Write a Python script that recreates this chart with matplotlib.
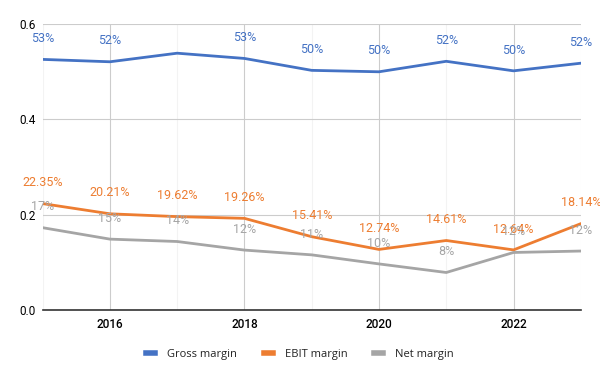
import numpy as np
import matplotlib.pyplot as plt
from matplotlib.ticker import MultipleLocator

years = [2015, 2016, 2017, 2018, 2019, 2020, 2021, 2022, 2023]
gross = [0.526, 0.521, 0.539, 0.528, 0.503, 0.500, 0.522, 0.502, 0.518]
ebit = [0.2235, 0.2021, 0.1962, 0.1926, 0.1541, 0.1274, 0.1461, 0.1264, 0.1814]
net = [0.173, 0.149, 0.144, 0.126, 0.116, 0.097, 0.079, 0.121, 0.124]

gross_labels = ["53%", "52%", None, "53%", "50%", "50%", "52%", "50%", "52%"]
ebit_labels = ["22.35%", "20.21%", "19.62%", "19.26%", "15.41%",
               "12.74%", "14.61%", "12.64%", "18.14%"]
net_labels = ["17%", "15%", "14%", "12%", "11%", "10%", "8%", "12%", "12%"]

series = [
    ("Gross margin", gross, gross_labels, "#4472c4"),
    ("EBIT margin", ebit, ebit_labels, "#ed7d31"),
    ("Net margin", net, net_labels, "#a5a5a5"),
]

plt.rcParams["font.family"] = ["Roboto", "DejaVu Sans"]

fig = plt.figure(figsize=(6.0, 3.71), dpi=100)
ax = fig.add_axes([0.071, 0.164, 0.897, 0.771])

for nombre, valores, etiquetas, color in series:
    ax.plot(years, valores, color=color, linewidth=2, label=nombre,
            solid_joinstyle="round", zorder=3)
    for x, y, txt in zip(years, valores, etiquetas):
        if txt is None:
            continue
        ax.annotate(txt, (x, y), xytext=(0, 15), textcoords="offset points",
                    ha="center", va="center", fontsize=9, color=color, zorder=4)

ax.set_xlim(2015, 2023)
ax.set_ylim(0, 0.6)
ax.xaxis.set_major_locator(MultipleLocator(2))
ax.xaxis.set_minor_locator(MultipleLocator(1))
ax.yaxis.set_major_locator(MultipleLocator(0.2))
ax.yaxis.set_major_formatter(plt.FuncFormatter(lambda v, p: f"{v:.1f}"))

ax.grid(True, which="major", color="#cccccc", linewidth=0.8)
ax.grid(True, which="minor", axis="x", color="#f3f3f3", linewidth=0.8)
ax.set_axisbelow(True)

for lado in ["top", "right", "left"]:
    ax.spines[lado].set_visible(False)
ax.spines["bottom"].set_color("#333333")
ax.spines["bottom"].set_linewidth(1.2)

ax.tick_params(axis="both", which="both", length=0, labelsize=8.5, colors="black")
ax.tick_params(axis="x", pad=6)
ax.tick_params(axis="y", pad=5)
for t in ax.get_xticklabels():
    t.set_fontweight("medium")

leg = ax.legend(loc="upper center", bbox_to_anchor=(0.478, -0.1), ncol=3, frameon=False,
                handlelength=0.8, handletextpad=1.1, columnspacing=2.4,
                prop={"family": ["Open Sans", "DejaVu Sans"], "size": 8})
for linea in leg.get_lines():
    linea.set_linewidth(4)
for t in leg.get_texts():
    t.set_color("#222222")

fig.savefig("out.png", dpi=100)
